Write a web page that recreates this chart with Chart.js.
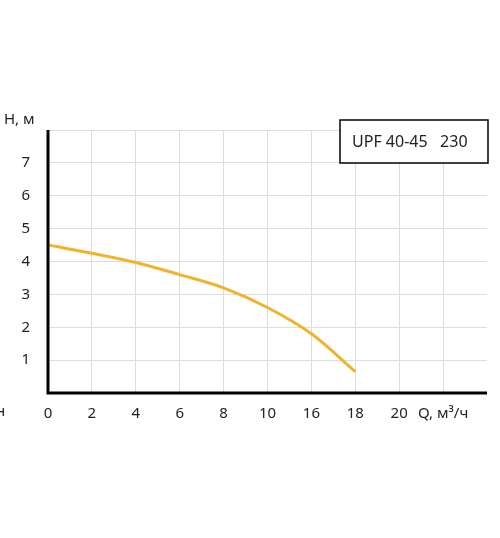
<!DOCTYPE html><html><head><meta charset="utf-8">
<script src="https://cdn.jsdelivr.net/npm/chart.js@4/dist/chart.umd.min.js"></script>
<style>html,body{margin:0;padding:0;background:#fff}#w{width:500px;height:538px}</style></head><body>
<div id="w"><canvas id="c"></canvas></div>
<script>
const xTickLabels=['0','2','4','6','8','10','16','18','20','Q, м³/ч'];
const curveX=[0,1,2,3,4,5,6,7];
const curveH=[4.5,4.25,3.97,3.6,3.2,2.6,1.8,0.65];
const yTicks=[1,2,3,4,5,6,7];
const legendText='UPF 40-45   230';
const pts=curveX.map((x,i)=>({x,y:curveH[i]}));
const F='"Noto Sans", sans-serif';
const deco={id:'deco',afterDraw(ch){const c=ch.ctx,a=ch.chartArea;c.save();
c.strokeStyle='#000';c.lineWidth=3;c.beginPath();c.moveTo(a.left,a.top);c.lineTo(a.left,a.bottom);c.lineTo(a.right,a.bottom);c.stroke();
c.fillStyle='#fff';c.fillRect(340,120,148,43);c.lineWidth=1.5;c.strokeRect(340,120,148,43);
c.fillStyle='#222';c.font='16px '+F;c.textBaseline='middle';c.textAlign='left';c.fillText(legendText,352,142);
c.font='15px '+F;c.fillText('H, м',4,120);c.fillText('н',-4,412);c.restore();}};
new Chart(document.getElementById('c'),{type:'scatter',data:{datasets:[{data:pts,showLine:true,borderColor:'#f0b32e',borderWidth:3,pointRadius:0,tension:0.4,cubicInterpolationMode:'monotone'}]},
options:{responsive:true,maintainAspectRatio:false,animation:false,plugins:{legend:{display:false},tooltip:{enabled:false}},
layout:{padding:{top:130,right:13,left:0,bottom:0}},
scales:{x:{type:'linear',min:0,max:10,afterFit(s){s.height=145},grid:{color:'#ddd',drawTicks:false},border:{display:false},
afterBuildTicks(s){s.ticks=xTickLabels.map((_,i)=>({value:i}))},
ticks:{padding:12,color:'#222',font:{family:F,size:15},maxRotation:0,autoSkip:false,callback:(v)=>xTickLabels[v]}},
y:{min:0,max:8,afterFit(s){s.width=48},grid:{color:'#ddd',drawTicks:false},border:{display:false},
afterBuildTicks(s){s.ticks=[0,...yTicks,8].map(v=>({value:v}))},
ticks:{padding:18,color:'#222',font:{family:F,size:15},callback:(v)=>yTicks.includes(v)?String(v):''}}}},
plugins:[deco]});
</script></body></html>
